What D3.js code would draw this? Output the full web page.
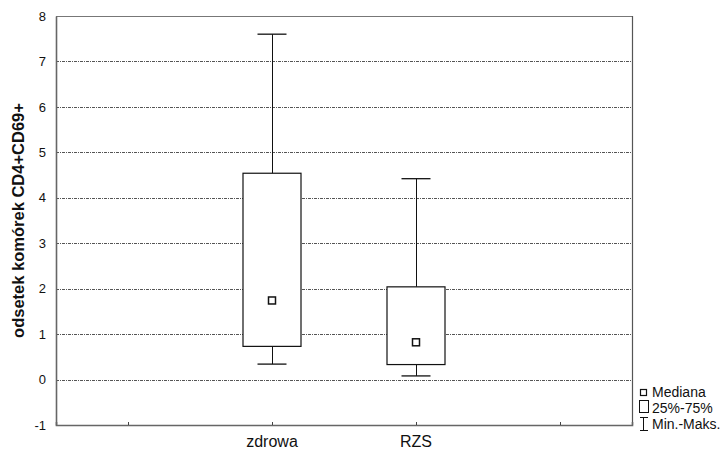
<!DOCTYPE html>
<html>
<head>
<meta charset="utf-8">
<script src="https://cdn.jsdelivr.net/npm/d3@7"></script>
<style>
  body { margin: 0; background: #fff; }
  svg { display: block; font-family: "Liberation Sans", Arial, sans-serif; }
</style>
</head>
<body>
<svg id="chart" width="725" height="452"></svg>
<script>
// Category slots along the x axis (outer slots are empty)
const slots = ["", "zdrowa", "RZS", " "];
const groups = ["zdrowa", "RZS"];
const minVals = [0.34, 0.08];
const q1Vals = [0.73, 0.33];
const medianVals = [1.74, 0.82];
const q3Vals = [4.54, 2.04];
const maxVals = [7.6, 4.42];
const yTicks = [-1, 0, 1, 2, 3, 4, 5, 6, 7, 8];
const yLabel = "odsetek komórek CD4+CD69+";
const legendItems = ["Mediana", "25%-75%", "Min.-Maks."];

const svg = d3.select("#chart");
const plotL = 56, plotR = 632, plotT = 16, plotB = 425;

const x = d3.scalePoint().domain(slots).range([plotL, plotR]).padding(0.5);
const y = d3.scaleLinear().domain([-1, 8]).range([plotB, plotT]);

// Grid lines
svg.append("g")
  .selectAll("line")
  .data(yTicks.filter(d => d > -1 && d < 8))
  .join("line")
  .attr("x1", plotL).attr("x2", plotR)
  .attr("y1", d => Math.round(y(d)) + 0.5).attr("y2", d => Math.round(y(d)) + 0.5)
  .attr("stroke", "#555")
  .attr("stroke-width", 1)
  .attr("stroke-dasharray", "3,1,1,1");

// Frame: top and right
svg.append("line").attr("x1", plotL).attr("x2", plotR + 0.5).attr("y1", plotT + 0.5).attr("y2", plotT + 0.5)
  .attr("stroke", "#777").attr("stroke-width", 1.2);
svg.append("line").attr("x1", plotR + 0.5).attr("x2", plotR + 0.5).attr("y1", plotT).attr("y2", plotB)
  .attr("stroke", "#555").attr("stroke-width", 1.2);

// Y axis
const yAxis = svg.append("g")
  .attr("transform", `translate(${plotL},0)`)
  .call(d3.axisLeft(y).tickValues(yTicks).tickFormat(d => String(d)).tickSize(0).tickPadding(10));
yAxis.select(".domain").attr("stroke", "#666").attr("stroke-width", 1.6);
yAxis.selectAll("text").attr("font-size", 13).attr("fill", "#111")
  .attr("font-family", "'Liberation Sans', Arial, sans-serif");

// X axis
const xAxis = svg.append("g")
  .attr("transform", `translate(0,${plotB})`)
  .call(d3.axisTop(x).tickSize(3).tickFormat(""));
xAxis.select(".domain").attr("stroke", "#666").attr("stroke-width", 1.6);
xAxis.selectAll(".tick line").attr("stroke", "#444");

svg.append("g").selectAll("text")
  .data(groups)
  .join("text")
  .attr("x", d => x(d))
  .attr("y", 447)
  .attr("text-anchor", "middle")
  .attr("font-size", 16)
  .attr("fill", "#111")
  .text(d => d);

// Y axis title
svg.append("text")
  .attr("transform", `translate(24,${(plotT + plotB) / 2}) rotate(-90)`)
  .attr("text-anchor", "middle")
  .attr("font-size", 16.5)
  .attr("font-weight", "bold")
  .attr("fill", "#111")
  .text(yLabel);

// Boxes
const boxW = 58, capW = 29, medS = 7;
const bx = svg.append("g");
groups.forEach((g, i) => {
  const cx = x(g);
  const cxr = Math.round(cx) + 0.5;
  // whiskers
  bx.append("line").attr("x1", cxr).attr("x2", cxr)
    .attr("y1", y(maxVals[i])).attr("y2", y(q3Vals[i]))
    .attr("stroke", "#111").attr("stroke-width", 1);
  bx.append("line").attr("x1", cxr).attr("x2", cxr)
    .attr("y1", y(q1Vals[i])).attr("y2", y(minVals[i]))
    .attr("stroke", "#111").attr("stroke-width", 1);
  [maxVals[i], minVals[i]].forEach(v => {
    bx.append("line").attr("x1", cx - capW / 2).attr("x2", cx + capW / 2)
      .attr("y1", y(v)).attr("y2", y(v))
      .attr("stroke", "#111").attr("stroke-width", 1.3);
  });
  // box
  bx.append("rect")
    .attr("x", cx - boxW / 2).attr("y", y(q3Vals[i]))
    .attr("width", boxW).attr("height", y(q1Vals[i]) - y(q3Vals[i]))
    .attr("fill", "#fff").attr("stroke", "#111").attr("stroke-width", 1.2);
  // median marker
  bx.append("rect")
    .attr("x", cx - medS / 2).attr("y", y(medianVals[i]) - medS / 2)
    .attr("width", medS).attr("height", medS)
    .attr("fill", "#fff").attr("stroke", "#111").attr("stroke-width", 1.5);
});

// Legend
const lg = svg.append("g").attr("font-size", 14).attr("fill", "#111");
lg.append("rect").attr("x", 640.5).attr("y", 389.5).attr("width", 6).attr("height", 6)
  .attr("fill", "#fff").attr("stroke", "#111").attr("stroke-width", 1.2);
lg.append("rect").attr("x", 639.5).attr("y", 400.5).attr("width", 9).attr("height", 12)
  .attr("fill", "#fff").attr("stroke", "#111").attr("stroke-width", 1);
lg.append("line").attr("x1", 643.5).attr("x2", 643.5).attr("y1", 417).attr("y2", 431).attr("stroke", "#111");
lg.append("line").attr("x1", 640).attr("x2", 648).attr("y1", 417.5).attr("y2", 417.5).attr("stroke", "#111");
lg.append("line").attr("x1", 640).attr("x2", 648).attr("y1", 430.5).attr("y2", 430.5).attr("stroke", "#111");
lg.selectAll("text.leg")
  .data(legendItems)
  .join("text")
  .attr("class", "leg")
  .attr("x", 652)
  .attr("y", (d, i) => 396.5 + i * 16)
  .text(d => d);
</script>
</body>
</html>
